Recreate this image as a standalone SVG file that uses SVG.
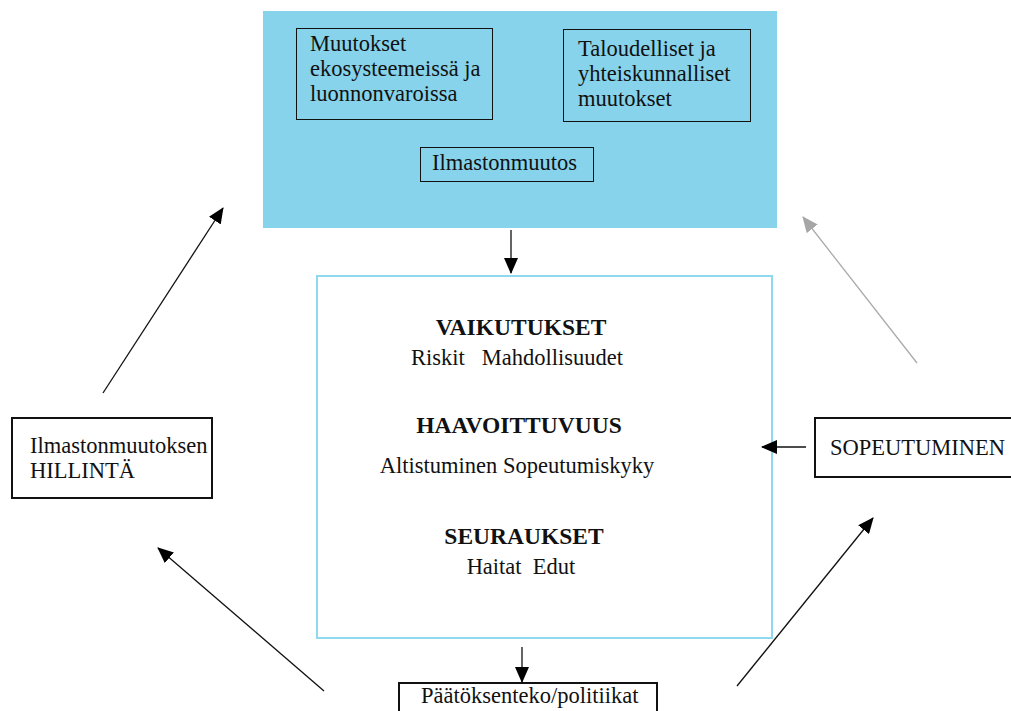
<svg xmlns="http://www.w3.org/2000/svg" width="1011" height="711" viewBox="0 0 1011 711">
<defs>
<style>
text{font-family:"Liberation Serif","Times New Roman",serif;font-size:22.5px;fill:#111}
.b{font-weight:bold;font-size:23.5px}
.c{text-anchor:middle}
.box{fill:none;stroke:#111;stroke-width:1}
.tb{fill:none;stroke:#111;stroke-width:2}
.ln{stroke:#111;stroke-width:1.3;fill:none}
.gr{stroke:#aaa;stroke-width:1.3;fill:none}
</style>
<marker id="ah" markerUnits="userSpaceOnUse" markerWidth="16" markerHeight="14" refX="15" refY="7" orient="auto"><path d="M0,0 L16,7 L0,14 Z" fill="#000"/></marker>
<marker id="ahg" markerUnits="userSpaceOnUse" markerWidth="16" markerHeight="14" refX="15" refY="7" orient="auto"><path d="M0,0 L16,7 L0,14 Z" fill="#a6a6a6"/></marker>
</defs>
<rect width="1011" height="711" fill="#fff"/>
<g id="top">
<rect x="263" y="11" width="514" height="217" fill="#86d3eb"/>
<g id="eco"><rect class="box" x="296.5" y="28.5" width="196" height="91"/>
<text x="310" y="51">Muutokset</text><text x="310" y="76">ekosysteemeissä ja</text><text x="310" y="101">luonnonvaroissa</text></g>
<g id="talous"><rect class="box" x="563.5" y="29.5" width="187" height="92"/>
<text x="578" y="56">Taloudelliset ja</text><text x="578" y="81">yhteiskunnalliset</text><text x="578" y="106">muutokset</text></g>
<g id="ilmasto"><rect class="box" x="420.5" y="147.5" width="173" height="34"/>
<text x="432" y="170">Ilmastonmuutos</text></g>
</g>
<g id="center">
<rect x="317" y="276" width="455" height="362" fill="none" stroke="#8fd8ee" stroke-width="2"/>
<text class="b c" x="521" y="335">VAIKUTUKSET</text>
<text class="c" x="517" y="365" xml:space="preserve">Riskit   Mahdollisuudet</text>
<text class="b c" x="519" y="433">HAAVOITTUVUUS</text>
<text class="c" x="517" y="473">Altistuminen Sopeutumiskyky</text>
<text class="b c" x="524" y="544">SEURAUKSET</text>
<text class="c" x="521" y="574" xml:space="preserve">Haitat  Edut</text>
</g>
<g id="hillinta"><rect class="tb" x="12" y="418" width="200" height="80"/>
<text x="30" y="453">Ilmastonmuutoksen</text><text x="30" y="478">HILLINTÄ</text></g>
<g id="sopeutuminen"><rect class="tb" x="815" y="418" width="210" height="59"/>
<text x="830" y="455">SOPEUTUMINEN</text></g>
<g id="paatoksenteko"><rect class="tb" x="399" y="683" width="258" height="40"/>
<text x="421" y="703">Päätöksenteko/politiikat</text></g>
<g id="connectors">
<line class="ln" x1="511" y1="230" x2="511" y2="273" marker-end="url(#ah)"/>
<line class="ln" x1="522" y1="647" x2="522" y2="682" marker-end="url(#ah)"/>
<line class="ln" x1="806" y1="447" x2="762" y2="447" marker-end="url(#ah)"/>
<line class="ln" x1="103" y1="393" x2="223" y2="208" marker-end="url(#ah)"/>
<line class="gr" x1="917" y1="363" x2="803" y2="217" marker-end="url(#ahg)"/>
<line class="ln" x1="324" y1="691" x2="158" y2="548" marker-end="url(#ah)"/>
<line class="ln" x1="737" y1="686" x2="873" y2="518" marker-end="url(#ah)"/>
</g>
</svg>
